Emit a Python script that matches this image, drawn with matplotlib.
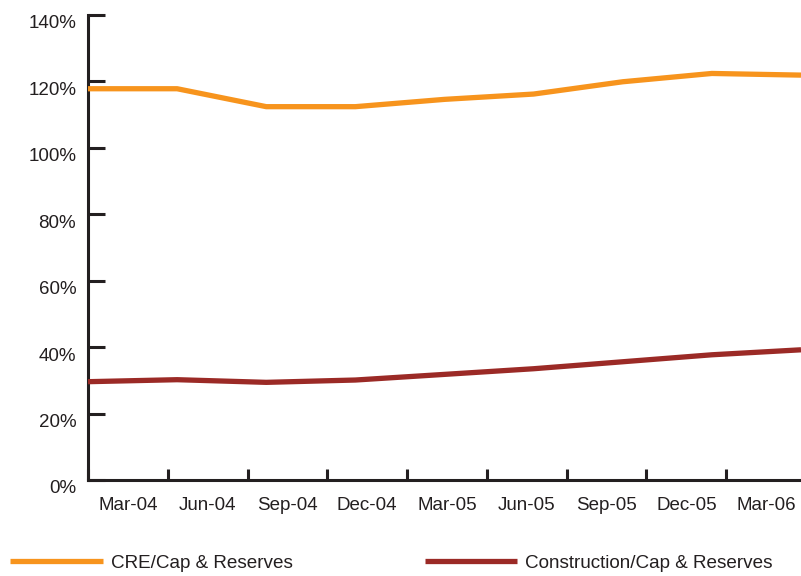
import numpy as np
import matplotlib
matplotlib.use('Agg')
import matplotlib.pyplot as plt
from matplotlib.transforms import ScaledTranslation

quarters = ['Mar-04', 'Jun-04', 'Sep-04', 'Dec-04', 'Mar-05',
            'Jun-05', 'Sep-05', 'Dec-05', 'Mar-06']
cre = [117.8, 117.8, 112.4, 112.4, 114.6, 116.2, 119.9, 122.4, 121.9]
construction = [29.6, 30.2, 29.4, 30.1, 31.8, 33.5, 35.6, 37.7, 39.2]
yticks = [0, 20, 40, 60, 80, 100, 120, 140]

plt.rcParams['font.family'] = ['Liberation Sans', 'DejaVu Sans']
axis_col = '#231f20'
orange = '#f7941d'
darkred = '#9b2a26'

fig = plt.figure(figsize=(8.01, 5.76), dpi=100)
ax = fig.add_axes([88/801, 96/576, 718/801, 465/576])

n = len(quarters)
ax.set_xlim(0, n)
ax.set_ylim(0, 140)
ax.set_xticks(np.arange(n + 1))
ax.set_xticklabels([])
ax.set_xticks(np.arange(n) + 0.5, minor=True)
ax.set_xticklabels(quarters, minor=True)
ax.set_yticks(yticks)
ax.set_yticklabels(['%d%%' % v for v in yticks])

for s in ['top', 'right']:
	ax.spines[s].set_visible(False)
for s in ['left', 'bottom']:
	ax.spines[s].set_linewidth(2.2)
	ax.spines[s].set_color(axis_col)

ax.tick_params(axis='both', which='major', direction='in', width=2.2,
               color=axis_col, labelsize=13.5, labelcolor=axis_col)
ax.tick_params(axis='y', length=12, pad=8.5)
ax.tick_params(axis='x', which='major', length=8)
ax.tick_params(axis='x', which='minor', length=0, pad=12, labelsize=13.5, labelcolor=axis_col)

# y labels sit a bit below their ticks in the original
shift = ScaledTranslation(0, -5/72, fig.dpi_scale_trans)
for lab in ax.get_yticklabels():
	lab.set_transform(lab.get_transform() + shift)

# lines use their own evenly spaced x positions, spanning the visible width
ax2 = ax.twiny()
ax2.set_xlim(0, (n - 1) * 718/713)
ax2.axis('off')
l1, = ax2.plot(np.arange(n), cre, color=orange, lw=3.8, solid_capstyle='butt',
               label='CRE/Cap & Reserves')
l2, = ax2.plot(np.arange(n), construction, color=darkred, lw=3.8, solid_capstyle='butt',
               label='Construction/Cap & Reserves')

fig.legend(handles=[l1, l2], loc='center left', bbox_to_anchor=(10/801, 13/576),
           ncol=2, frameon=False, fontsize=13.6, handlelength=4.9, handletextpad=0.43,
           columnspacing=7.0, borderpad=0, borderaxespad=0,
           labelcolor=axis_col)

fig.savefig('out.png', dpi=100)
